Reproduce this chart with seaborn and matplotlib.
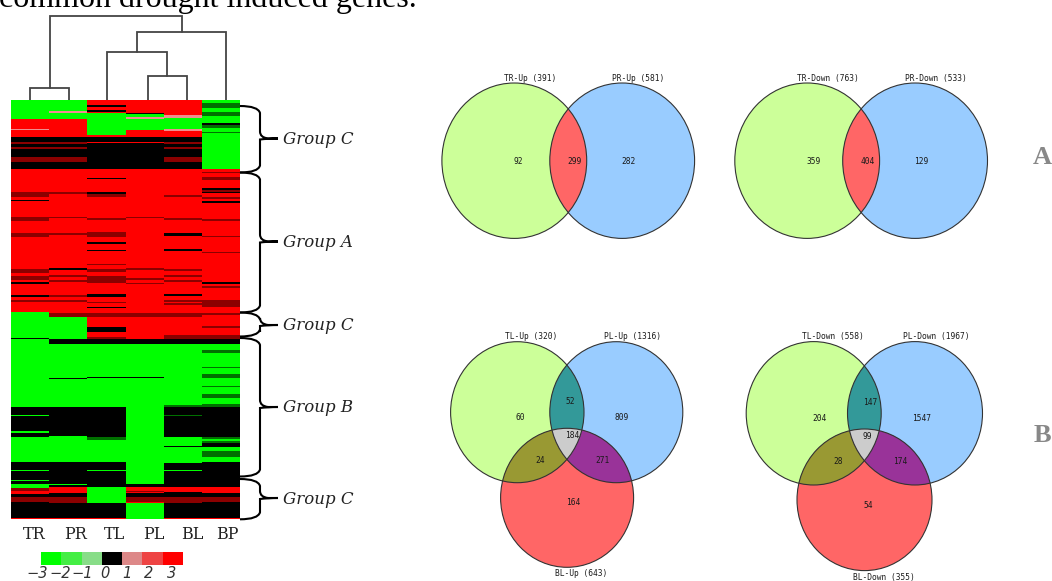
import numpy as np
import matplotlib
matplotlib.use("Agg")
import matplotlib.pyplot as plt
from matplotlib.colors import ListedColormap
from matplotlib.patches import Ellipse, Polygon, PathPatch
from matplotlib.path import Path
import seaborn as sns

sns.set_theme(style="white")

W, H = 1052, 581
N_ROWS = 419

# heatmap codes
G, D, K, M, P, R = 0, 1, 2, 3, 4, 5   # green, dark green, black, dark red, pink, red
heat_colors = ["#00ff00", "#007000", "#000000", "#8b0000", "#ee8f8f", "#ff0000"]
conditions = ["TR", "PR", "TL", "PL", "BL", "BP"]

# runs: (first row, code)
TR = [(0,G),(19,R),(29,P),(30,R),(37,K),(42,M),(44,K),(47,M),(49,K),(57,M),(62,K),(69,R),(92,M),(97,R),(100,K),(101,R),
      (117,M),(121,R),(133,M),(137,R),(169,M),(173,R),(176,M),(180,R),(182,K),(184,R),(195,K),(197,R),(200,M),(202,R),
      (212,G),(238,K),(239,G),(307,K),(315,G),(316,K),(331,G),(333,K),(337,G),(362,K),(370,G),(371,K),(380,G),(381,K),
      (384,G),(388,M),(391,R),(394,K),(397,M),(402,K),(418,R)]
PR = [(0,G),(11,P),(13,G),(19,R),(37,K),(42,M),(44,K),(47,M),(49,K),(57,M),(62,K),(69,R),(92,M),(94,R),(117,M),(118,R),
      (133,M),(135,R),(168,K),(170,R),(175,M),(177,R),(180,M),(182,R),(195,M),(197,R),(200,M),(202,R),(213,M),(217,G),
      (239,K),(244,G),(278,K),(279,G),(307,K),(336,G),(362,K),(384,G),(385,K),(387,R),(393,K),(397,M),(403,K),(418,R)]
TL = [(0,R),(5,K),(7,R),(10,K),(12,R),(13,G),(35,R),(37,K),(42,R),(43,K),(69,R),(78,K),(79,R),(92,K),(94,M),(97,R),
      (118,M),(120,R),(132,M),(137,R),(142,K),(144,R),(150,K),(151,R),(164,M),(165,R),(169,M),(172,R),(176,M),(183,R),
      (194,K),(197,R),(202,M),(203,R),(207,K),(208,R),(213,M),(217,R),(227,K),(232,R),(237,M),(239,K),(244,G),(277,K),
      (278,G),(307,K),(337,D),(340,G),(362,K),(370,G),(371,K),(387,G),(403,K),(418,R)]
PL = [(0,R),(13,K),(14,G),(17,P),(19,G),(30,R),(37,K),(42,R),(43,K),(69,R),(117,M),(118,R),(168,M),(170,R),(178,M),(180,R),
      (183,M),(184,R),(213,M),(217,R),(239,K),(244,G),(277,K),(278,G),(384,K),(387,R),(391,M),(392,R),(393,K),(397,M),
      (402,R),(403,G)]
BL = [(0,R),(15,P),(18,G),(29,P),(31,R),(37,K),(42,M),(44,K),(47,M),(49,K),(57,M),(62,K),(69,R),(95,M),(97,R),(118,M),
      (120,R),(133,K),(136,R),(149,K),(151,R),(169,M),(171,R),(175,M),(177,R),(180,M),(182,R),(194,K),(196,R),(200,M),
      (202,R),(203,M),(205,R),(213,M),(217,R),(235,M),(239,K),(244,G),(305,D),(307,K),(315,D),(316,K),(337,G),(346,K),
      (347,G),(363,K),(370,G),(371,K),(387,R),(392,K),(397,M),(403,K),(418,R)]
BP = [(0,G),(3,D),(8,G),(12,D),(16,G),(23,K),(25,D),(28,G),(32,D),(33,G),(69,R),(72,M),(73,R),(77,M),(80,R),(88,K),(90,M),
      (92,K),(93,R),(97,M),(99,R),(101,K),(103,R),(119,M),(121,R),(136,M),(137,R),(152,M),(153,R),(182,K),(184,R),(186,M),
      (188,R),(200,M),(207,R),(213,M),(215,R),(226,M),(228,R),(235,M),(239,K),(244,G),(250,D),(253,G),(267,D),(268,G),
      (274,D),(278,G),(286,D),(287,G),(294,D),(298,G),(304,D),(307,K),(337,D),(339,G),(341,D),(343,K),(347,G),(351,D),
      (357,G),(362,K),(387,R),(393,K),(397,M),(402,K),(418,R)]


def expand(runs):
    col = np.zeros(N_ROWS, dtype=int)
    for start, code in runs:
        col[start:] = code
    return col


# dendrogram
leaf_pos = [0.5, 1.52, 2.52, 3.59, 4.61, 5.63]
merges = [(0, 1, 12), (3, 4, 24), (2, 7, 48), (8, 5, 68), (6, 9, 84)]

# colour key
key_values = [-3, -2, -1, 0, 1, 2, 3]
key_colors = ["#00ff00", "#44ee44", "#88dd88", "#000000", "#dd8888", "#ee4444", "#ff0000"]
key_labels = ["\u22123", "\u22122", "\u22121", "0", "1", "2", "3"]

group_names = ["Group C", "Group A", "Group C", "Group B", "Group C"]
group_spans = [(106, 138.5, 172.5), (172.5, 241.5, 312.5), (312.5, 325, 336.5), (338, 407, 476.5), (479, 498, 519.3)]

# Venn panels
v_a1_titles = ["TR-Up (391)", "PR-Up (581)"]
v_a1_counts = ["92", "299", "282"]
v_a2_titles = ["TR-Down (763)", "PR-Down (533)"]
v_a2_counts = ["359", "404", "129"]
v_b1_titles = ["TL-Up (320)", "PL-Up (1316)", "BL-Up (643)"]
v_b1_counts = ["60", "52", "809", "184", "24", "271", "164"]
v_b2_titles = ["TL-Down (558)", "PL-Down (1967)", "BL-Down (355)"]
v_b2_counts = ["204", "147", "1547", "99", "28", "174", "54"]


def px_axes(x0, y0, x1, y1):
    return fig.add_axes([x0 / W, 1 - y1 / H, (x1 - x0) / W, (y1 - y0) / H])


fig = plt.figure(figsize=(W / 100, H / 100), dpi=100, facecolor="white")

# main heatmap
ax = px_axes(11, 100, 240, 519)
matrix = np.column_stack([expand(c) for c in (TR, PR, TL, PL, BL, BP)])
sns.heatmap(matrix, ax=ax, cmap=ListedColormap(heat_colors), vmin=-0.5, vmax=5.5, cbar=False,
            yticklabels=False, xticklabels=False)
ax.set_xticks([0.61, 1.68, 2.70, 3.74, 4.76, 5.68])
ax.set_xticklabels(conditions, family="DejaVu Serif", fontsize=11.5, color="#222222", rotation=0)
ax.tick_params(axis="x", length=0, pad=5)

# dendrogram
dax = px_axes(11, 0, 240, 100)
dax.set_xlim(0, 6)
dax.set_ylim(0, 100)
dax.axis("off")
node_x = list(leaf_pos)
node_h = [0] * len(leaf_pos)
for a, b, h in merges:
    dax.plot([node_x[a], node_x[a], node_x[b], node_x[b]], [node_h[a], h, h, node_h[b]],
             color="#444444", lw=1.3, solid_joinstyle="miter")
    node_x.append((node_x[a] + node_x[b]) / 2)
    node_h.append(h)

# colour key
kax = px_axes(41, 552, 183, 565)
sns.heatmap(np.arange(len(key_values)).reshape(1, -1), ax=kax, cmap=ListedColormap(key_colors),
            cbar=False, xticklabels=False, yticklabels=False)

# overlay in pixel coordinates
ov = fig.add_axes([0, 0, 1, 1], facecolor="none")
ov.set_xlim(0, W)
ov.set_ylim(H, 0)
ov.axis("off")

for s, x in zip(key_labels, [36.7, 60, 82, 105, 127, 149, 172]):
    ov.text(x, 573.5, s, family="DejaVu Sans", style="italic", fontsize=10.5, color="#333333",
            ha="center", va="center")

ov.text(-1, 7, "common drought induced genes.", family="Liberation Serif", fontsize=23,
        color="black", ha="left", va="baseline")


def brace(y0, tip, y1, x0=240, x1=260, xt=278):
    r = 7
    verts = [(x0, y0), (x1 - 2, y0), (x1, y0 + r), (x1, tip - r), (x1, tip - 1), (xt - 10, tip),
             (xt, tip), (xt - 10, tip), (x1, tip + 1), (x1, tip + r), (x1, y1 - r), (x1 - 2, y1), (x0, y1)]
    codes = [Path.MOVETO, Path.CURVE3, Path.CURVE3, Path.LINETO, Path.CURVE3, Path.CURVE3,
             Path.LINETO, Path.CURVE3, Path.CURVE3, Path.LINETO, Path.LINETO, Path.CURVE3, Path.CURVE3]
    ov.add_patch(PathPatch(Path(verts, codes), fc="none", ec="black", lw=1.5))


for name, (y0, tip, y1) in zip(group_names, group_spans):
    brace(y0, tip, y1)
    ov.text(283, tip + 1, name, family="DejaVu Serif", style="italic", fontsize=12,
            color="#222222", ha="left", va="center")


def ellipse_pts(e, n=1440):
    t = np.linspace(0, 2 * np.pi, n, endpoint=False)
    return np.column_stack([e[0] + e[2] * np.cos(t), e[1] + e[3] * np.sin(t)])


def inside(p, e):
    return ((p[:, 0] - e[0]) / e[2]) ** 2 + ((p[:, 1] - e[1]) / e[3]) ** 2 <= 1


def overlap(*es):
    pts = []
    for i, e in enumerate(es):
        p = ellipse_pts(e)
        for j, o in enumerate(es):
            if j != i:
                p = p[inside(p, o)]
        pts.append(p)
    pts = np.vstack(pts)
    c = pts.mean(axis=0)
    return pts[np.argsort(np.arctan2(pts[:, 1] - c[1], pts[:, 0] - c[0]))]


FILL = ["#ccff99", "#99ccff", "#ff6666"]
EDGE = "#333333"


def venn(ells):
    for e, f in zip(ells, FILL):
        ov.add_patch(Ellipse(e[:2], 2 * e[2], 2 * e[3], fc=f, ec="none"))
    if len(ells) == 2:
        ov.add_patch(Polygon(overlap(*ells), fc="#ff6666", ec="none"))
    else:
        a, b, c = ells
        ov.add_patch(Polygon(overlap(a, b), fc="#339999", ec="none"))
        ov.add_patch(Polygon(overlap(a, c), fc="#999933", ec="none"))
        ov.add_patch(Polygon(overlap(b, c), fc="#993399", ec="none"))
        ov.add_patch(Polygon(overlap(a, b, c), fc="#cccccc", ec="none"))
    for e in ells:
        ov.add_patch(Ellipse(e[:2], 2 * e[2], 2 * e[3], fc="none", ec=EDGE, lw=0.8))


def vtext(labels, places):
    for s, (x, y) in zip(labels, places):
        ov.text(x, y, s, family="DejaVu Sans Mono", fontsize=5.7, color="#1a1a1a", ha="center", va="center")


venn([(514.3, 160.7, 72.4, 77.7), (622.2, 160.7, 72.4, 77.7)])
vtext(v_a1_titles, [(530.4, 78.3), (637.9, 78.3)])
vtext(v_a1_counts, [(518, 162), (574.8, 162), (628.4, 162)])

venn([(807.2, 160.7, 72.4, 77.7), (915.1, 160.7, 72.4, 77.7)])
vtext(v_a2_titles, [(828, 78.3), (936, 78.3)])
vtext(v_a2_counts, [(813.7, 162), (868, 162), (921.3, 162)])

venn([(517.3, 412.2, 66.7, 70.5), (616.3, 412.2, 66.5, 70.5), (567.1, 497.8, 66.5, 69.5)])
vtext(v_b1_titles, [(531.2, 336.7), (632.4, 336.7), (580.8, 574)])
vtext(v_b1_counts, [(520.5, 417.3), (570, 401), (621.7, 417.3), (572, 435),
                    (540.3, 460.7), (602.6, 460.7), (572.9, 502.3)])

venn([(813.7, 413.3, 67.5, 71.7), (915, 413.3, 67.5, 71.7), (864.5, 499.8, 67.5, 70.8)])
vtext(v_b2_titles, [(832.8, 336.7), (936, 336.7), (883.6, 577.3)])
vtext(v_b2_counts, [(819.7, 418.7), (869.7, 402.7), (922, 418.7), (867.7, 436.7),
                    (838, 462), (900.2, 462), (868.5, 505)])

for s, y in (("A", 157), ("B", 436)):
    ov.text(1042, y, s, family="Liberation Serif", weight="bold", fontsize=19, color="#888888",
            ha="center", va="center")

fig.savefig("out.png", dpi=100)
